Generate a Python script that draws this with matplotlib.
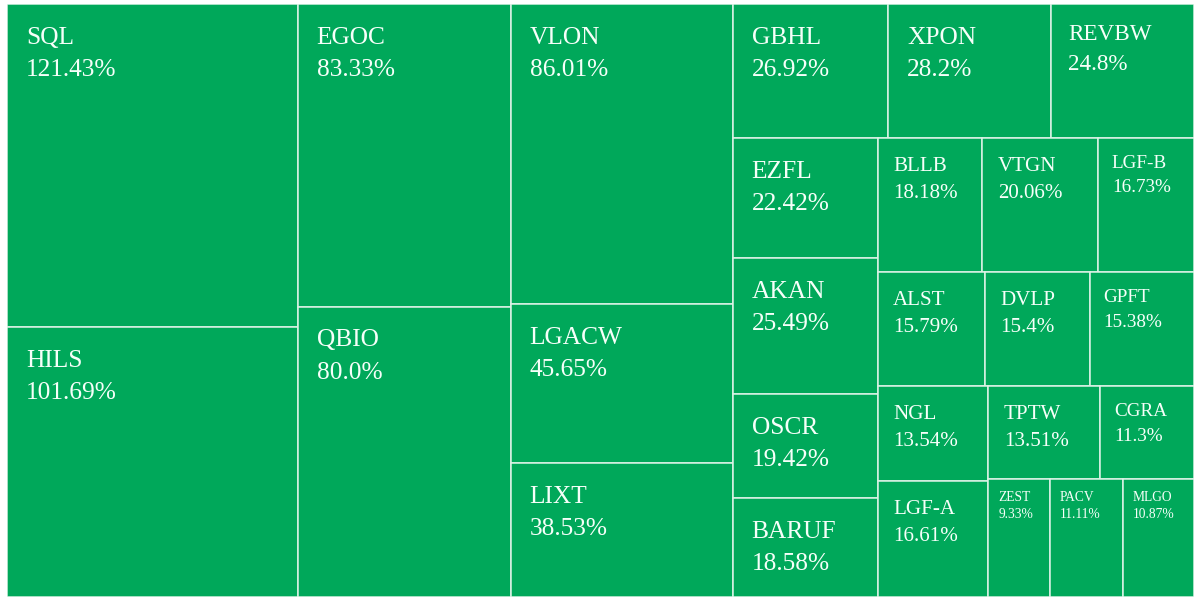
import matplotlib
matplotlib.use("Agg")
import matplotlib.pyplot as plt
from matplotlib.patches import Rectangle

# ---- data (in the order used by the layout) ----
tickers = ["SQL", "HILS", "EGOC", "QBIO", "VLON", "LGACW", "LIXT",
           "GBHL", "XPON", "REVBW", "EZFL", "AKAN", "OSCR", "BARUF",
           "BLLB", "VTGN", "LGF-B", "ALST", "DVLP", "GPFT",
           "NGL", "LGF-A", "TPTW", "CGRA", "ZEST", "PACV", "MLGO"]
changes = [121.43, 101.69, 83.33, 80.0, 86.01, 45.65, 38.53,
           26.92, 28.2, 24.8, 22.42, 25.49, 19.42, 18.58,
           18.18, 20.06, 16.73, 15.79, 15.4, 15.38,
           13.54, 16.61, 13.51, 11.3, 9.33, 11.11, 10.87]

W, H = 1187.0, 593.0
FILL = "#00a85a"
EDGE = "#dcf3e6"
TEXT = "#f6fff9"


def worst(row, side):
    s = sum(row)
    return max(max(side * side * r / (s * s), s * s / (side * side * r)) for r in row)


def squarify(areas, x, y, w, h):
    rects = []
    i = 0
    n = len(areas)
    while i < n:
        vertical = w >= h  # column on the left, else row on top
        side = h if vertical else w
        row = [areas[i]]
        j = i + 1
        while j < n:
            cand = row + [areas[j]]
            if worst(cand, side) <= worst(row, side):
                row = cand
                j += 1
            else:
                break
        s = sum(row)
        if vertical:
            cw = s / h
            yy = y
            for a in row:
                hh = a / cw
                rects.append((x, yy, cw, hh))
                yy += hh
            x += cw
            w -= cw
        else:
            rh = s / w
            xx = x
            for a in row:
                ww = a / rh
                rects.append((xx, y, ww, rh))
                xx += ww
            y += rh
            h -= rh
        i = j
    return rects


total = sum(changes)
areas = [v * W * H / total for v in changes]
rects = squarify(areas, 0.0, 0.0, W, H)

fig = plt.figure(figsize=(12, 6.02), dpi=100)
ax = fig.add_axes([7 / 1200, (602 - 597) / 602, W / 1200, H / 602])
ax.set_xlim(0, W)
ax.set_ylim(H, 0)
ax.axis("off")

for (x, y, w, h), name, v in zip(rects, tickers, changes):
    ax.add_patch(Rectangle((x, y), w, h, facecolor=FILL, edgecolor=EDGE, linewidth=1.1))
    if w >= 140:
        fs = 25.4
    elif w >= 85:
        fs = 21.0
    else:
        fs = 13.5
    if x + w > W - 1 and w >= 85:
        fs *= 0.91
    tx = x + 0.74 * fs
    b1 = y + 1.57 * fs
    b2 = b1 + 1.28 * fs
    ax.text(tx, b1, name, color=TEXT, fontsize=fs * 0.72, family="Liberation Serif",
            va="baseline", ha="left")
    ax.text(tx, b2, f"{v}%", color=TEXT, fontsize=fs * 0.72, family="Liberation Serif",
            va="baseline", ha="left")

fig.savefig("out.png", dpi=100, facecolor="white")
